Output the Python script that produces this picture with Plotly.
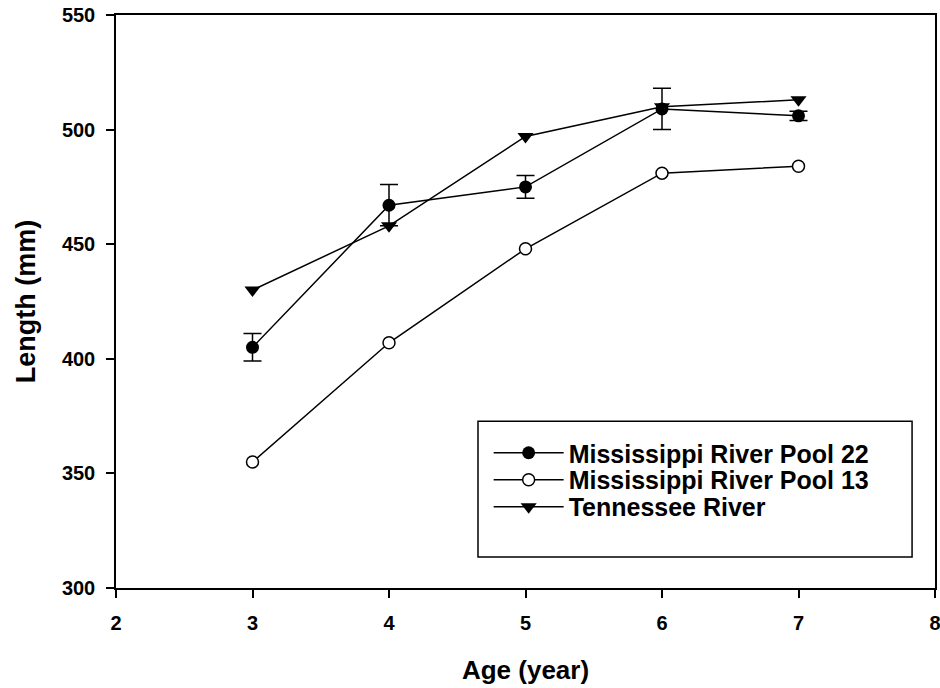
import plotly.graph_objects as go

ages = [3, 4, 5, 6, 7]
pool22 = [405, 467, 475, 509, 506]
pool22_err = [6, 9, 5, 9, 2]
pool13 = [355, 407, 448, 481, 484]
tennessee = [430, 458, 497, 510, 513]

x_ticks = [2, 3, 4, 5, 6, 7, 8]
y_ticks = [300, 350, 400, 450, 500, 550]

FONT = "Liberation Sans, Arial, sans-serif"

fig = go.Figure()
fig.add_trace(go.Scatter(
    x=ages, y=pool22, name="Mississippi River Pool 22", mode="lines+markers",
    line=dict(color="black", width=1.5), legend="legend",
    marker=dict(symbol="circle", size=13, color="black"),
    error_y=dict(type="data", array=pool22_err, color="black", thickness=1.5, width=9),
))
fig.add_trace(go.Scatter(
    x=ages, y=pool13, name="Mississippi River Pool 13", mode="lines+markers",
    line=dict(color="black", width=1.5), legend="legend2",
    marker=dict(symbol="circle", size=12, color="white", line=dict(color="black", width=1.5)),
))
fig.add_trace(go.Scatter(
    x=ages, y=tennessee, name="Tennessee River", mode="lines+markers",
    line=dict(color="black", width=1.5), legend="legend3",
    marker=dict(symbol="triangle-down", size=14, color="black"),
))

axis_common = dict(
    showgrid=False, zeroline=False, showline=True, linecolor="black", linewidth=1.5,
    mirror=True, ticks="outside", ticklen=8, tickwidth=1.5, tickcolor="black",
    tickfont=dict(family=FONT, size=20, color="black", weight="bold"),
    automargin=False, ticklabeloverflow="allow",
)

# legend frame (paper coordinates)
fig.add_shape(type="rect", xref="paper", yref="paper",
              x0=0.442, x1=0.972, y0=0.054, y1=0.291,
              line=dict(color="black", width=1.5), fillcolor="white", layer="below")

legend_common = dict(
    x=0.455, xanchor="left", yanchor="middle",
    borderwidth=0, bgcolor="rgba(0,0,0,0)",
    font=dict(family=FONT, size=25, color="black", weight="bold"),
    itemwidth=70,
)

fig.update_layout(
    width=940, height=688, autosize=False,
    paper_bgcolor="white", plot_bgcolor="rgba(0,0,0,0)",
    margin=dict(l=116, r=5, t=15, b=100, pad=0),
    font=dict(family=FONT, color="black"),
    xaxis=dict(range=[2, 8], tickvals=x_ticks, ticklabelstandoff=8,
               title=dict(text="<b>Age (year)</b>", font=dict(size=26), standoff=28),
               **axis_common),
    yaxis=dict(range=[300, 550], tickvals=y_ticks, ticklabelstandoff=7,
               title=dict(text="<b>Length (mm)</b>", font=dict(size=27), standoff=18),
               **axis_common),
    legend=dict(y=0.2356, **legend_common),
    legend2=dict(y=0.1885, **legend_common),
    legend3=dict(y=0.1414, **legend_common),
    showlegend=True,
)

fig.write_html("out.html", config={"displayModeBar": False},
               post_script="document.body.style.margin='0px';")
